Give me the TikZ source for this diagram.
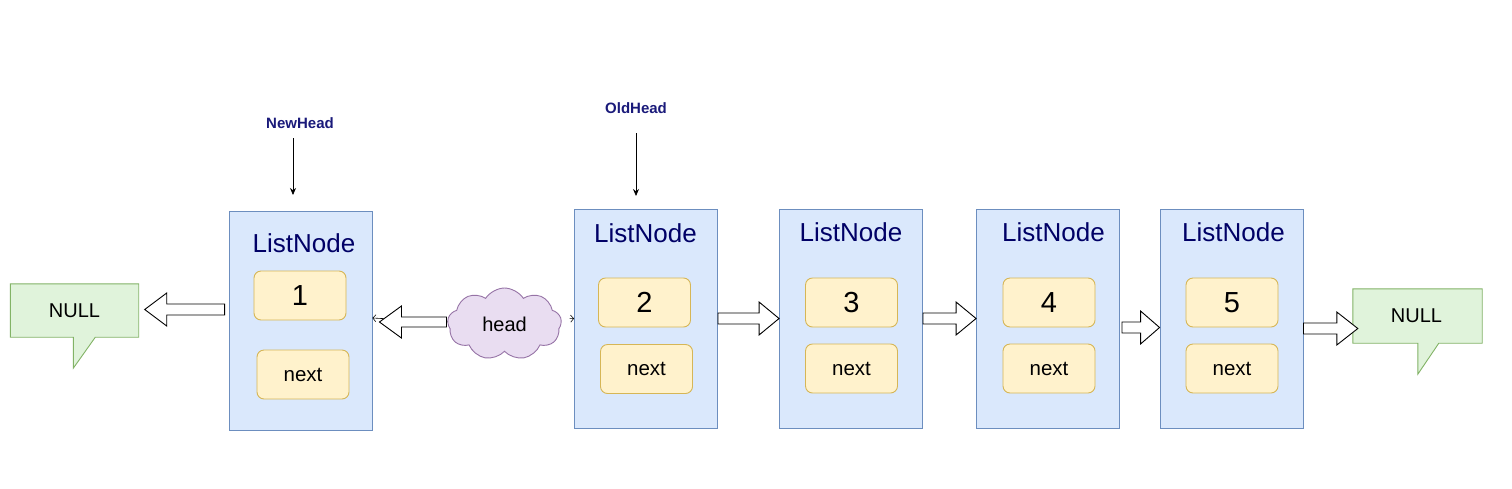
\documentclass[tikz,border=0pt]{standalone}
\usepackage{fontspec}
\setmainfont{Liberation Sans}
\usetikzlibrary{shapes.symbols,calc,arrows.meta}
\definecolor{boxfill}{HTML}{DAE8FC}
\definecolor{boxline}{HTML}{6C8EBF}
\definecolor{valfill}{HTML}{FFF2CC}
\definecolor{valline}{HTML}{D6B656}
\definecolor{nullfill}{HTML}{E0F3DB}
\definecolor{nullline}{HTML}{82B366}
\definecolor{cloudfill}{HTML}{E9DDF1}
\definecolor{cloudline}{HTML}{9673A6}
\definecolor{navy}{HTML}{000066}
\definecolor{ptrnavy}{HTML}{1A1A7A}
\newcommand\blkarrow[5]{%
  \path (#1) coordinate (ba-s) (#2) coordinate (ba-e);
  \path ($(ba-e)!#5!(ba-s)$) coordinate (ba-h);
  \draw[blockarr] ($(ba-s)!#3!90:(ba-e)$) -- ($(ba-h)!#3!-90:(ba-s)$)
    -- ($(ba-h)!#4!-90:(ba-s)$) -- (ba-e) -- ($(ba-h)!#4!90:(ba-s)$)
    -- ($(ba-h)!#3!90:(ba-s)$) -- ($(ba-s)!#3!-90:(ba-e)$) -- cycle;}
\begin{document}
\begin{tikzpicture}[x=1pt,y=-1pt,
  listbox/.style={draw=boxline,fill=boxfill,line width=0.9pt,minimum width=143pt,minimum height=219pt,inner sep=0pt},
  valbox/.style={draw=valline,fill=valfill,line width=0.9pt,rounded corners=7pt,minimum width=92pt,minimum height=49pt,inner sep=0pt},
  numtxt/.style={font=\fontsize{29}{33}\selectfont},
  nexttxt/.style={font=\fontsize{20.5}{24}\selectfont},
  titletxt/.style={text=navy,font=\fontsize{26}{30}\selectfont,inner sep=0pt},
  ptrlabel/.style={text=ptrnavy,font=\bfseries\fontsize{15}{18}\selectfont,inner sep=0pt},
  ptr/.style={draw=black,line width=0.8pt,-{Stealth[length=7pt,width=6pt]}},
  blockarr/.style={draw=black,fill=white,line width=0.9pt,line join=miter},
  nullrect/.style={minimum width=128pt,minimum height=53pt,inner sep=0pt,font=\fontsize{20}{24}\selectfont},
  callout/.style={draw=nullline,fill=nullfill,line width=0.9pt},
  chev/.style={draw=black,line width=0.6pt,-{Straight Barb[length=3pt,width=7pt]}}
]
\useasboundingbox (0,0) rectangle (1512,488);

% list boxes
\node[listbox] (b1) at (300.5,320.5) {};
\node[listbox] (b2) at (646,318.5) {};
\node[listbox] (b3) at (851,318.5) {};
\node[listbox] (b4) at (1048,318.5) {};
\node[listbox] (b5) at (1231.5,318.5) {};

\node[titletxt] (t1) at (304,243) {ListNode};
\node[titletxt] (t2) at (645.5,233) {ListNode};
\node[titletxt] (t3) at (851,232) {ListNode};
\node[titletxt] (t4) at (1053.5,232) {ListNode};
\node[titletxt] (t5) at (1233.5,232) {ListNode};

\node[valbox,numtxt] (v1) at (300,295.5) {1};
\node[valbox,numtxt] (v2) at (644.5,302.5) {2};
\node[valbox,numtxt] (v3) at (851.5,302.5) {3};
\node[valbox,numtxt] (v4) at (1049,302.5) {4};
\node[valbox,numtxt] (v5) at (1232,302.5) {5};

\node[valbox,nexttxt] (n1) at (303,374.5) {next};
\node[valbox,nexttxt] (n2) at (646.5,369) {next};
\node[valbox,nexttxt] (n3) at (851.5,368.5) {next};
\node[valbox,nexttxt] (n4) at (1049,368.5) {next};
\node[valbox,nexttxt] (n5) at (1232,368.5) {next};

% NULL callouts
\path (74.5,310.5) node[nullrect] (nullL) {};
\draw[callout] (nullL.north west) -- (nullL.north east) -- (nullL.south east)
  -- ([xshift=85pt]nullL.south west) -- ([xshift=63pt,yshift=-31pt]nullL.south west)
  -- ([xshift=63pt]nullL.south west) -- (nullL.south west) -- cycle;
\node[font=\fontsize{20}{24}\selectfont] at ([yshift=-0.5pt]nullL) {NULL};

\path (1417.5,316) node[nullrect,minimum width=129pt,minimum height=54pt] (nullR) {};
\draw[callout] (nullR.north west) -- (nullR.north east) -- (nullR.south east)
  -- ([xshift=86pt]nullR.south west) -- ([xshift=65pt,yshift=-31pt]nullR.south west)
  -- ([xshift=65pt]nullR.south west) -- (nullR.south west) -- cycle;
\node[font=\fontsize{20}{24}\selectfont] at ([xshift=-1pt]nullR) {NULL};

% cloud
\node[cloud,cloud puffs=9,cloud puff arc=115,aspect=1.6,draw=cloudline,fill=cloudfill,line width=0.9pt,
      minimum width=114pt,minimum height=72pt,inner sep=0pt,font=\fontsize{20}{24}\selectfont] (cloud) at (504.5,324) {head};

% thin connectors from the cloud
\draw[chev] ([yshift=2pt]cloud.west) -- ([yshift=2.5pt]b1.east);
\draw[chev,shorten <=8pt] ([yshift=5pt]cloud.east) -- (b2.west);

% block arrows
\blkarrow{[xshift=-4pt,yshift=11pt]b1.west}{[xshift=6pt,yshift=1pt]nullL.east}{5.5pt}{16.5pt}{22pt}
\blkarrow{[xshift=-1pt,yshift=2pt]cloud.west}{[xshift=7pt,yshift=-1.5pt]b1.east}{5pt}{16pt}{22pt}
\blkarrow{b2.east}{b3.west}{5.5pt}{16.5pt}{20pt}
\blkarrow{b3.east}{b4.west}{5.5pt}{16.5pt}{20pt}
\blkarrow{[xshift=2pt,yshift=-9pt]b4.east}{[yshift=-9pt]b5.west}{5.5pt}{16.5pt}{19pt}
\blkarrow{[yshift=-10pt]b5.east}{[xshift=5pt,yshift=-12.5pt]nullR.west}{5.5pt}{16.5pt}{21pt}

% head pointers
\node[ptrlabel] (newhead) at (300,123) {NewHead};
\node[ptrlabel] (oldhead) at (636,108) {OldHead};
\coordinate (nhs) at (293,138);
\coordinate (nhe) at (293,195);
\coordinate (ohs) at (636,133);
\coordinate (ohe) at (636,196);
\draw[ptr] (nhs) -- (nhe);
\draw[ptr] (ohs) -- (ohe);
\end{tikzpicture}
\end{document}
